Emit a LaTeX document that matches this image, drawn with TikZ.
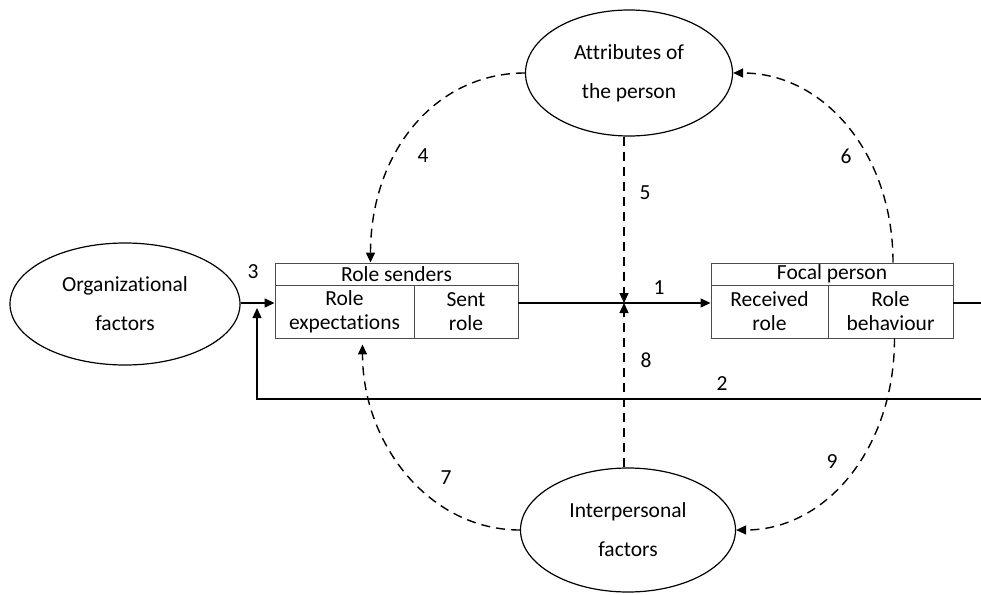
\documentclass[tikz,border=0pt]{standalone}
\usepackage{fontspec}
\setmainfont[Ligatures=NoCommon]{Carlito}
\usepackage{tikz}
\usetikzlibrary{arrows.meta,shapes.geometric}

\begin{document}
\begin{tikzpicture}[x=1pt, y=-1pt, >={Triangle[length=10pt,width=9pt]},
    factor/.style={draw, ellipse, line width=1.2pt, inner sep=0pt, align=center, font=\fontsize{21.5}{39}\selectfont},
    cell/.style={draw=black!70, line width=0.9pt, inner sep=0pt, align=center, font=\fontsize{21.5}{24}\selectfont},
    flow/.style={line width=1.3pt, ->},
    dflow/.style={flow, line width=1.4pt, dash pattern=on 9pt off 6pt},
    num/.style={font=\fontsize{21.5}{24}\selectfont}]
    \useasboundingbox (0,0) rectangle (981,594);

    % Factors
    \node[factor, minimum width=230pt, minimum height=122pt] (org) at (125,304) {Organizational\\factors};
    \node[factor, minimum width=207pt, minimum height=126pt] (attr) at (629,73) {Attributes of\\the person};
    \node[factor, minimum width=215pt, minimum height=124pt] (inter) at (628,530) {Interpersonal\\factors};

    % Role senders
    \node[cell, minimum width=243pt, minimum height=22pt] (rsH) at (396.5,274) {Role senders};
    \node[cell, minimum width=139pt, minimum height=53pt] (rsL) at (344.5,311.5) {Role\\expectations};
    \node[cell, minimum width=104pt, minimum height=53pt] (rsR) at (466,311.5) {Sent\\role};

    % Focal person
    \node[cell, minimum width=242pt, minimum height=22pt] (fpH) at (832,274) {Focal person};
    \node[cell, minimum width=117pt, minimum height=53pt] (fpL) at (769.5,311.5) {Received\\role};
    \node[cell, minimum width=125pt, minimum height=53pt] (fpR) at (890.5,311.5) {Role\\behaviour};

    \coordinate (jn) at (624,303);
    \coordinate (outR) at (981,303);
    \coordinate (fbR) at (981,399);
    \coordinate (fbL) at (257,308);

    % Main flow and feedback
    \draw[flow] (org.east |- jn) -- (rsL.west |- jn);
    \draw[flow] (rsR.east |- jn) -- (fpL.west |- jn);
    \draw[line width=1.3pt] (fpR.east |- jn) -- (outR);
    \draw[flow] (fbR) -- (fbR -| fbL) -- (fbL);

    % Dashed influences
    \draw[dflow] (jn |- attr.south) -- (jn);
    \draw[dflow] (jn |- inter.north) -- (jn);
    \draw[dflow] (attr.west) .. controls +(-90,0) and +(0,-110) .. ([xshift=-26pt]rsH.north);
    \draw[dflow] ([xshift=61pt]fpH.north) .. controls +(0,-110) and +(90,0) .. (attr.east);
    \draw[dflow] (inter.west) .. controls +(-90,0) and +(0,100) .. ([xshift=18pt,yshift=-6pt]rsL.south);
    \draw[dflow] ([xshift=4pt]fpR.south) .. controls +(0,110) and +(90,0) .. (inter.east);

    % Numbers
    \node[num] (n1) at (659,288) {1};
    \node[num] (n2) at (722,384) {2};
    \node[num] (n3) at (253,272) {3};
    \node[num] (n4) at (423,156) {4};
    \node[num] (n5) at (645,193) {5};
    \node[num] (n6) at (846,156) {6};
    \node[num] (n7) at (446,478) {7};
    \node[num] (n8) at (646,360) {8};
    \node[num] (n9) at (832,462) {9};
\end{tikzpicture}
\end{document}
